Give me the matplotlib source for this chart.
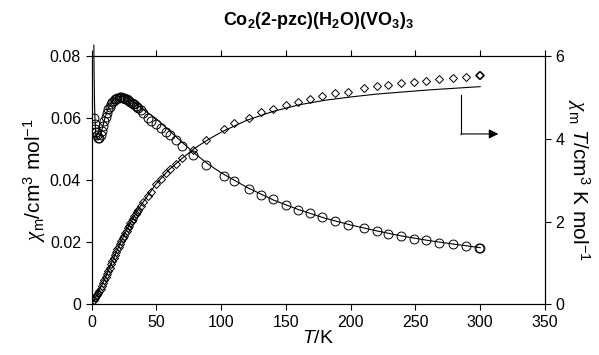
import matplotlib
matplotlib.use("Agg")
import matplotlib.pyplot as plt

plt.rcParams['font.family'] = ['Liberation Sans', 'DejaVu Sans']
plt.rcParams['mathtext.fontset'] = 'custom'
plt.rcParams['mathtext.rm'] = 'Liberation Sans'
plt.rcParams['mathtext.it'] = 'Liberation Sans:italic'
plt.rcParams['mathtext.bf'] = 'Liberation Sans:bold'
plt.rcParams['mathtext.sf'] = 'Liberation Serif:italic'

# ---- data ----
T = [2, 2.5, 3, 3.5, 4, 5, 6, 7, 8, 9, 10, 11, 12, 13, 14, 15, 16, 17, 18, 19,
     20, 21, 22, 23, 24, 25, 26, 27, 28, 29, 30, 31, 32, 33, 34, 35, 36, 38, 40,
     43.5, 46, 50, 54, 57.5, 60.5, 65.5, 69.5, 78, 88, 102, 110, 121.5, 130.5,
     140, 150, 159, 169, 178, 188, 198, 210, 220, 229, 239, 249, 258, 268, 279,
     289, 299, 300]

chi = [0.0600, 0.0580, 0.0565, 0.0555, 0.0545, 0.0535, 0.0535, 0.0545, 0.0558,
       0.0575, 0.0592, 0.0605, 0.0618, 0.0628, 0.0637, 0.0645, 0.0651, 0.0656,
       0.0660, 0.0663, 0.0665, 0.0666, 0.0667, 0.0667, 0.0666, 0.0665, 0.0663,
       0.0661, 0.0658, 0.0656, 0.0653, 0.0650, 0.0647, 0.0644, 0.0640, 0.0637,
       0.0633, 0.0626, 0.0618, 0.0600, 0.0592, 0.0580, 0.0567, 0.0555, 0.0546,
       0.0530, 0.0510, 0.0482, 0.0450, 0.0414, 0.0396, 0.0373, 0.0352, 0.0341,
       0.0320, 0.0304, 0.0294, 0.0281, 0.0268, 0.0256, 0.0245, 0.0236, 0.0228,
       0.0220, 0.0212, 0.0206, 0.0199, 0.0194, 0.0188, 0.0183, 0.0182]

chiT = [0.12, 0.145, 0.17, 0.194, 0.218, 0.268, 0.321, 0.382, 0.446, 0.518,
        0.592, 0.666, 0.742, 0.816, 0.892, 0.968, 1.042, 1.115, 1.188, 1.26,
        1.33, 1.40, 1.467, 1.534, 1.598, 1.663, 1.724, 1.785, 1.842, 1.902,
        1.959, 2.015, 2.07, 2.125, 2.176, 2.23, 2.279, 2.379, 2.472, 2.61, 2.72,
        2.90, 3.03, 3.17, 3.27, 3.40, 3.53, 3.72, 3.97, 4.23, 4.37, 4.51, 4.64,
        4.72, 4.81, 4.89, 4.96, 5.04, 5.10, 5.14, 5.22, 5.27, 5.30, 5.34, 5.38,
        5.40, 5.44, 5.48, 5.50, 5.53, 5.54]

fit_T_chi = [1.8, 2.0, 2.3, 2.7, 3.2, 4, 5, 6, 8, 10, 12, 14, 16, 18, 20, 22,
             24, 27, 30, 35, 40, 50, 60, 70, 80, 90, 100, 120, 140, 160, 180,
             200, 220, 240, 260, 280, 300]
fit_chi = [0.0835, 0.074, 0.065, 0.059, 0.0555, 0.0535, 0.053, 0.0535, 0.0562,
           0.0595, 0.0622, 0.0642, 0.0655, 0.0663, 0.0668, 0.0670, 0.0669,
           0.0666, 0.0659, 0.0644, 0.0627, 0.0598, 0.0560, 0.0522, 0.0485,
           0.0452, 0.0424, 0.0377, 0.0337, 0.0305, 0.0278, 0.0256, 0.0237,
           0.0220, 0.0206, 0.0194, 0.0183]

fit_T_chiT = [1, 5, 10, 15, 20, 25, 30, 35, 40, 50, 60, 70, 80, 90, 100, 120,
              140, 160, 180, 200, 220, 240, 260, 280, 300]
fit_chiT = [0.06, 0.28, 0.60, 0.97, 1.33, 1.67, 1.97, 2.24, 2.48, 2.92, 3.26,
            3.53, 3.78, 3.98, 4.16, 4.45, 4.66, 4.82, 4.93, 5.01, 5.08, 5.13,
            5.18, 5.22, 5.26]

x_ticks = [0, 50, 100, 150, 200, 250, 300, 350]
y_left_ticks = [0, 0.02, 0.04, 0.06, 0.08]
y_left_labels = ['0', '0.02', '0.04', '0.06', '0.08']
y_right_ticks = [0, 2, 4, 6]

fig = plt.figure(figsize=(5.99, 3.55), dpi=100)
ax = fig.add_axes([0.1528, 0.1423, 0.7570, 0.7000])
ax2 = ax.twinx()

ax.plot(fit_T_chi, fit_chi, color='black', lw=0.8, clip_on=False, zorder=3)
ax.plot(T, chi, linestyle='none', marker='o', markersize=6.4,
        markerfacecolor='none', markeredgecolor='black', markeredgewidth=0.7,
        zorder=4)
ax2.plot(fit_T_chiT, fit_chiT, color='black', lw=0.8, zorder=3)
ax2.plot(T, chiT, linestyle='none', marker='D', markersize=4.4,
         markerfacecolor='none', markeredgecolor='black', markeredgewidth=0.7,
         zorder=4)

ax.set_xlim(0, 350)
ax.set_ylim(0, 0.08)
ax2.set_ylim(0, 6)
ax.set_xticks(x_ticks)
ax.set_yticks(y_left_ticks)
ax.set_yticklabels(y_left_labels)
ax2.set_yticks(y_right_ticks)

for a in (ax, ax2):
    for s in a.spines.values():
        s.set_linewidth(0.8)
ax.tick_params(axis='both', direction='out', length=4.5, width=0.8,
               labelsize=11.5, top=True, pad=3)
ax.tick_params(axis='x', labeltop=False)
ax2.tick_params(axis='y', direction='out', length=4.5, width=0.8,
                labelsize=11.5, pad=3)

ax.set_xlabel(r'$T$/K', fontsize=14, labelpad=0)
ax.set_ylabel(r'$\mathsf{\chi}_\mathrm{m}$/cm$^3$ mol$^{-1}$', fontsize=15,
              labelpad=1)
ax2.set_ylabel(r'$\mathsf{\chi}_\mathrm{m}$ $T$/cm$^3$ K mol$^{-1}$',
               fontsize=15, rotation=-90, labelpad=20)
ax.set_title(r'Co$_\mathbf{2}$(2-pzc)(H$_\mathbf{2}$O)(VO$_\mathbf{3}$)$_\mathbf{3}$',
             fontsize=13, fontweight='bold', pad=22)

# arrow pointing to the right axis
ax.annotate('', xy=(314, 0.0549), xytext=(285, 0.0549),
            arrowprops=dict(arrowstyle='-|>', color='black', lw=0.8,
                            mutation_scale=14, shrinkA=0, shrinkB=0))
ax.plot([285, 285], [0.0675, 0.0549], color='black', lw=0.8)

fig.savefig('out.png', dpi=100)
